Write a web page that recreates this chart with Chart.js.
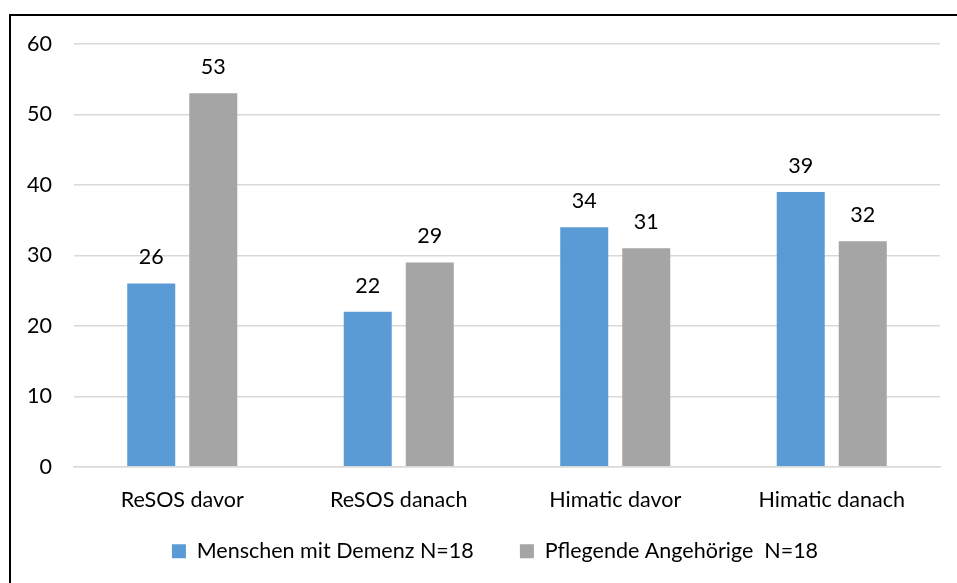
<!DOCTYPE html>
<html>
<head>
<meta charset="utf-8">
<script src="https://cdn.jsdelivr.net/npm/chart.js@4"></script>
<style>
html,body{margin:0;padding:0;background:#fff;}
#wrap{position:absolute;left:0;top:0;width:957px;height:583px;}
</style>
</head>
<body>
<div id="wrap"><canvas id="c" width="957" height="583"></canvas></div>
<script>
const categories = ["ReSOS davor", "ReSOS danach", "Himatic davor", "Himatic danach"];
const seriesNames = ["Menschen mit Demenz N=18", "Pflegende Angehörige  N=18"];
const demenz = [26, 22, 34, 39];
const angehoerige = [53, 29, 31, 32];
const yTicks = [0, 10, 20, 30, 40, 50, 60];

const FONT = "Lato, 'Open Sans', sans-serif";
const FS = 21.5;

const frame = {
  id: 'frame',
  beforeDraw(chart) {
    const ctx = chart.ctx;
    ctx.save();
    ctx.fillStyle = '#fff';
    ctx.fillRect(0, 0, chart.width, chart.height);
    ctx.fillStyle = '#000';
    ctx.fillRect(9, 14, chart.width - 9, 2);
    ctx.fillRect(9, 14, 2, chart.height - 14);
    ctx.restore();
  }
};

const legendShift = {
  id: 'legendShift',
  afterLayout(chart) {
    if (chart.legend) { chart.legend.left += 15; chart.legend.right += 15; }
  }
};

const valueLabels = {
  id: 'valueLabels',
  afterDatasetsDraw(chart) {
    const ctx = chart.ctx;
    ctx.save();
    ctx.font = FS + "px " + FONT;
    ctx.fillStyle = '#000';
    ctx.textAlign = 'center';
    ctx.textBaseline = 'middle';
    chart.data.datasets.forEach((ds, i) => {
      const meta = chart.getDatasetMeta(i);
      meta.data.forEach((bar, j) => {
        ctx.fillText(String(ds.data[j]), bar.x, bar.y - 26);
      });
    });
    ctx.restore();
  }
};

new Chart(document.getElementById('c'), {
  type: 'bar',
  data: {
    labels: categories,
    datasets: [
      { label: seriesNames[0], data: demenz, backgroundColor: '#5B9BD5' },
      { label: seriesNames[1], data: angehoerige, backgroundColor: '#A5A5A5' }
    ]
  },
  options: {
    responsive: false,
    animation: false,
    devicePixelRatio: 1,
    categoryPercentage: 0.573,
    barPercentage: 0.774,
    layout: { padding: { left: 20, right: 17, top: 44, bottom: 11 } },
    plugins: {
      legend: {
        position: 'bottom',
        labels: {
          font: { family: FONT, size: FS },
          color: '#000',
          boxWidth: 14,
          boxHeight: 14,
          padding: 8,
          generateLabels(chart) {
            const items = Chart.defaults.plugins.legend.labels.generateLabels(chart);
            items.forEach((it, i) => { if (i < items.length - 1) it.text = it.text + '\u2003    '; });
            return items;
          }
        }
      },
      tooltip: { enabled: false }
    },
    scales: {
      x: {
        grid: { display: false, drawTicks: false },
        border: { display: true, color: '#d9d9d9', width: 1.5 },
        ticks: { font: { family: FONT, size: FS }, color: '#000', padding: 20 }
      },
      y: {
        min: 0, max: 60,
        afterBuildTicks(scale) { scale.ticks = yTicks.map(v => ({ value: v })); },
        afterFit(scale) { scale.width = 54; },
        grid: { color: '#d9d9d9', lineWidth: 1.5, drawTicks: false },
        border: { display: false },
        ticks: { font: { family: FONT, size: FS }, color: '#000', padding: 22 }
      }
    }
  },
  plugins: [frame, legendShift, valueLabels]
});
</script>
</body>
</html>
